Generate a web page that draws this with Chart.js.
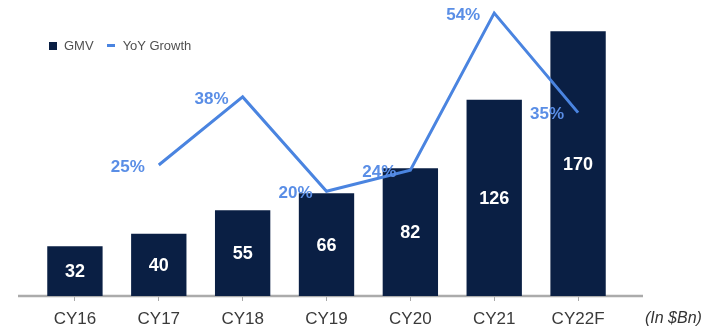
<!DOCTYPE html>
<html lang="en">
<head>
    <meta charset="UTF-8">
    <title>GMV and YoY Growth</title>
    <style>
        body {
            margin: 0;
            padding: 0;
            background: #ffffff;
            font-family: "Liberation Sans", Arial, sans-serif;
        }
        .wrap {
            position: relative;
            width: 712px;
            height: 330px;
        }
        .legend {
            position: absolute;
            top: 37px;
            left: 49px;
            font-size: 13px;
            color: #505050;
            line-height: 16px;
            white-space: nowrap;
        }
        .legend span {
            display: inline-block;
            vertical-align: middle;
        }
        .sq {
            width: 8px;
            height: 8px;
            background: #0a1f44;
            margin-right: 7px;
        }
        .dash {
            width: 8px;
            height: 3px;
            background: #4a84e0;
            margin: 0 8px 0 13px;
        }
        .unit {
            position: absolute;
            left: 645px;
            top: 309px;
            font-size: 16px;
            font-style: italic;
            color: #333;
        }
    </style>
</head>
<body>
    <div class="wrap">
        <canvas id="gmvChart" width="712" height="330"></canvas>
        <div class="legend">
            <span class="sq"></span><span>GMV</span><span class="dash"></span><span>YoY Growth</span>
        </div>
        <div class="unit">(In $Bn)</div>
    </div>

    <script src="https://cdn.jsdelivr.net/npm/chart.js"></script>
    <script>
        // chart data
        const years = ['CY16', 'CY17', 'CY18', 'CY19', 'CY20', 'CY21', 'CY22F'];
        const gmv = [32, 40, 55, 66, 82, 126, 170];
        const yoyGrowth = [null, 25, 38, 20, 24, 54, 35];

        const navy = '#0a1f44';
        const blue = '#4a84e0';

        // value labels: white inside bars, blue to the left of line points
        const valueLabels = {
            id: 'valueLabels',
            afterDatasetsDraw(chart) {
                const ctx = chart.ctx;
                ctx.save();
                chart.getDatasetMeta(0).data.forEach((bar, i) => {
                    ctx.fillStyle = '#ffffff';
                    ctx.font = 'bold 18px "Liberation Sans", Arial, sans-serif';
                    ctx.textAlign = 'center';
                    ctx.textBaseline = 'middle';
                    ctx.fillText(gmv[i], bar.x, (bar.y + bar.base) / 2 + 1);
                });
                chart.getDatasetMeta(1).data.forEach((pt, i) => {
                    if (yoyGrowth[i] === null) return;
                    ctx.fillStyle = '#5a8ee6';
                    ctx.font = 'bold 17px "Liberation Sans", Arial, sans-serif';
                    ctx.textAlign = 'right';
                    ctx.textBaseline = 'middle';
                    ctx.fillText(yoyGrowth[i] + '%', pt.x - 14, pt.y + 2);
                });
                ctx.restore();
            }
        };

        // baseline running a little past the bars
        const baseLine = {
            id: 'baseLine',
            beforeDatasetsDraw(chart) {
                const { ctx, chartArea } = chart;
                ctx.save();
                ctx.strokeStyle = '#ababab';
                ctx.lineWidth = 2.5;
                ctx.beginPath();
                ctx.moveTo(18, chartArea.bottom);
                ctx.lineTo(643, chartArea.bottom);
                ctx.stroke();
                ctx.restore();
            }
        };

        const ctx = document.getElementById('gmvChart').getContext('2d');
        new Chart(ctx, {
            type: 'bar',
            data: {
                labels: years,
                datasets: [{
                    label: 'GMV',
                    data: gmv,
                    backgroundColor: navy,
                    categoryPercentage: 1,
                    barPercentage: 0.66,
                    yAxisID: 'y',
                    order: 1
                }, {
                    type: 'line',
                    label: 'YoY Growth',
                    data: yoyGrowth,
                    borderColor: blue,
                    borderWidth: 3,
                    pointRadius: 0,
                    tension: 0,
                    clip: false,
                    yAxisID: 'y2',
                    order: 0
                }]
            },
            options: {
                responsive: false,
                animation: false,
                layout: {
                    padding: { left: 33, right: 92, top: 0, bottom: 0 }
                },
                plugins: {
                    legend: { display: false },
                    tooltip: { enabled: false }
                },
                scales: {
                    x: {
                        offset: true,
                        border: { display: false },
                        grid: {
                            offset: false,
                            drawOnChartArea: false,
                            tickLength: 5,
                            color: '#a8a8a8',
                            lineWidth: 1
                        },
                        ticks: {
                            color: '#3a3a3a',
                            padding: 8,
                            font: { size: 17, family: '"Liberation Sans", Arial, sans-serif' }
                        },
                        afterFit(scale) { scale.height = 34; }
                    },
                    y: {
                        display: false,
                        min: 0,
                        max: 190
                    },
                    y2: {
                        display: false,
                        min: 0,
                        max: 56.5
                    }
                }
            },
            plugins: [baseLine, valueLabels]
        });
    </script>
</body>
</html>
